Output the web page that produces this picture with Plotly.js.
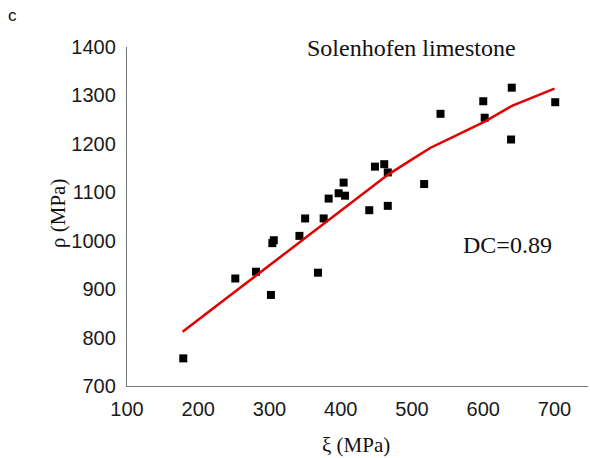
<!DOCTYPE html>
<html>
<head>
<meta charset="utf-8">
<script src="https://cdn.plot.ly/plotly-3.0.1.min.js"></script>
<style>html,body{margin:0;padding:0;background:#fff;}#chart{width:590px;height:458px;}</style>
</head>
<body>
<div id="chart"></div>
<script>
// Measured points: xi (MPa) vs rho (MPa)
var xiData = [179, 252, 281, 302, 304, 306, 342, 350, 368, 376, 383, 397, 404, 406, 440, 448, 461, 466, 466, 517, 540, 600, 602, 640, 639, 701];
var rhoData = [757, 922, 936, 888, 995, 1001, 1010, 1046, 934, 1046, 1087, 1098, 1120, 1093, 1063, 1153, 1158, 1141, 1072, 1117, 1262, 1288, 1254, 1316, 1209, 1286];
// Fitted curve
var fitX = [178, 300, 350, 400, 441, 466, 500, 526, 560, 602, 641, 700];
var fitY = [812, 949, 1005, 1061, 1107, 1136, 1168, 1192, 1216, 1246, 1279, 1314];
var xTicks = [100, 200, 300, 400, 500, 600, 700];
var yTicks = [700, 800, 900, 1000, 1100, 1200, 1300, 1400];

var L = 127, R = 2, T = 47, B = 72, W = 590, H = 458;
var pw = W - L - R, ph = H - T - B;
function px(x) { return (x - L) / pw; }
function py(y) { return (H - B - y) / ph; }

var serif = "Liberation Serif, Times New Roman, serif";
var sans = "Liberation Sans, Arial, sans-serif";

var traces = [
  {
    x: xiData, y: rhoData, type: 'scatter', mode: 'markers',
    marker: {symbol: 'square', size: 8, color: '#000000'},
    hoverinfo: 'x+y', showlegend: false
  },
  {
    x: fitX, y: fitY, type: 'scatter', mode: 'lines',
    line: {color: '#e00000', width: 2.5},
    hoverinfo: 'x+y', showlegend: false
  }
];

var layout = {
  width: W, height: H,
  margin: {l: L, r: R, t: T, b: B, pad: 0},
  paper_bgcolor: '#ffffff', plot_bgcolor: '#ffffff',
  showlegend: false,
  xaxis: {
    range: [100, 747], tickvals: xTicks, ticktext: xTicks.map(String),
    showgrid: false, zeroline: false, showline: true, linecolor: '#777777', linewidth: 1.2,
    ticks: '', tickfont: {family: sans, size: 20, color: '#1a1a1a'}, ticklabelstandoff: 5
  },
  yaxis: {
    range: [700, 1400], tickvals: yTicks, ticktext: yTicks.map(String),
    showgrid: false, zeroline: false, showline: true, linecolor: '#777777', linewidth: 1.2,
    ticks: '', tickfont: {family: sans, size: 20, color: '#1a1a1a'}, ticklabelstandoff: 6
  },
  annotations: [
    {text: 'Solenhofen limestone', xref: 'paper', yref: 'paper', x: px(411.7), y: py(48),
     xanchor: 'center', yanchor: 'middle', showarrow: false, font: {family: serif, size: 24, color: '#111'}},
    {text: 'DC=0.89', xref: 'paper', yref: 'paper', x: px(507), y: py(245),
     xanchor: 'center', yanchor: 'middle', showarrow: false, font: {family: serif, size: 24, color: '#111'}},
    {text: 'ξ (MPa)', xref: 'paper', yref: 'paper', x: px(356), y: py(445),
     xanchor: 'center', yanchor: 'middle', showarrow: false, font: {family: serif, size: 21, color: '#111'}},
    {text: 'ρ (MPa)', xref: 'paper', yref: 'paper', x: px(58), y: py(214), textangle: -90,
     xanchor: 'center', yanchor: 'middle', showarrow: false, font: {family: serif, size: 21, color: '#111'}},
    {text: 'c', xref: 'paper', yref: 'paper', x: px(12), y: py(15),
     xanchor: 'center', yanchor: 'middle', showarrow: false, font: {family: sans, size: 17, color: '#111'}}
  ]
};

Plotly.newPlot('chart', traces, layout, {displayModeBar: false, staticPlot: true});
</script>
</body>
</html>
